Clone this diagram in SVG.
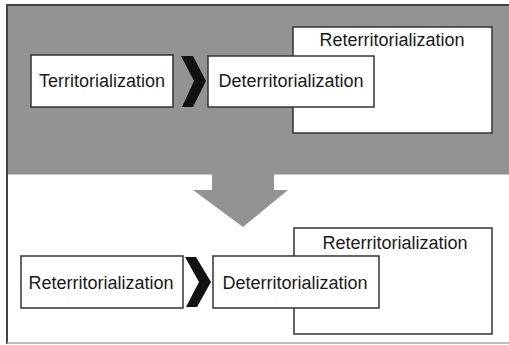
<svg xmlns="http://www.w3.org/2000/svg" width="509" height="345" viewBox="0 0 509 345">
<style>
.box{fill:#fff;stroke:#333;stroke-width:1.5}
.t{font-family:"Liberation Sans",Arial,sans-serif;font-size:18px;fill:#1a1a1a;text-anchor:middle}
.chev{fill:#111}
</style>
<rect x="0" y="0" width="509" height="345" fill="#fff"/>
<rect x="7" y="5" width="504" height="169" fill="#939393"/>
<line x1="7" y1="174.5" x2="509" y2="174.5" stroke="#c8c8c8" stroke-width="1"/>
<line x1="6" y1="5" x2="509" y2="5" stroke="#444" stroke-width="2"/>
<line x1="7" y1="4" x2="7" y2="344" stroke="#444" stroke-width="2"/>
<line x1="7" y1="343" x2="509" y2="343" stroke="#aaa" stroke-width="1.5"/>
<g id="connectors">
<polygon points="212,173 274,173 274,190 288,190 243,227 193,190 212,190" fill="#939393"/>
<polygon class="chev" points="181,56 193,56 206,81 193,107 182,107 194,81"/>
<polygon class="chev" points="185,257 196,257 211,282 197,307 186,307 199,282"/>
</g>
<g id="top-reterritorialization">
<rect class="box" x="293" y="27" width="199" height="106"/>
<text class="t" x="392" y="46">Reterritorialization</text>
</g>
<g id="top-territorialization">
<rect class="box" x="31" y="55" width="142" height="52"/>
<text class="t" x="102" y="87">Territorialization</text>
</g>
<g id="top-deterritorialization">
<rect class="box" x="208" y="56" width="166" height="51"/>
<text class="t" x="291" y="87">Deterritorialization</text>
</g>
<g id="bottom-reterritorialization-big">
<rect class="box" x="294" y="228" width="198" height="106"/>
<text class="t" x="395" y="249">Reterritorialization</text>
</g>
<g id="bottom-reterritorialization">
<rect class="box" x="21" y="256" width="162" height="52"/>
<text class="t" x="101" y="289">Reterritorialization</text>
</g>
<g id="bottom-deterritorialization">
<rect class="box" x="213" y="256" width="166" height="52"/>
<text class="t" x="295" y="289">Deterritorialization</text>
</g>
</svg>
